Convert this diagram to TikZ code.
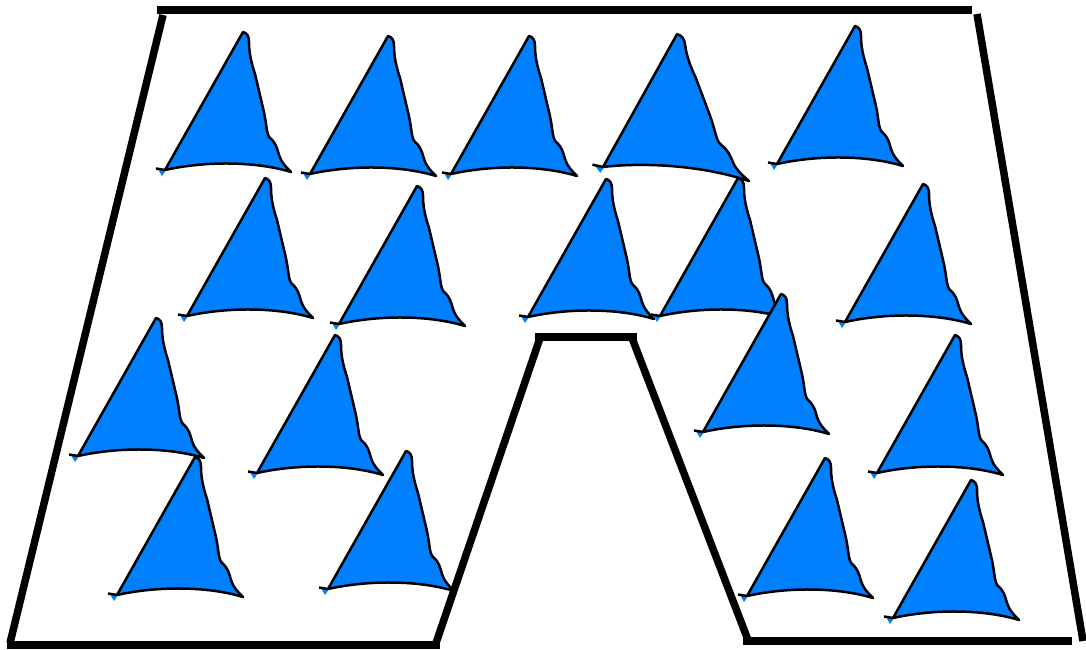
\documentclass[tikz,border=0pt]{standalone}
\usepackage{xcolor}
\definecolor{sailblue}{RGB}{0,128,255}

\tikzset{
    pics/sail/.style={code={
        \fill[sailblue] (-7,-1) -- (1,0) -- (-3,6) -- cycle;
        \draw[sailedge] (-9,-1.5) -- (0,0);
        \draw[sailedge, fill=sailblue] (0,0) -- (78,-138)
            .. controls (82,-137) and (84,-134) .. (84,-128)
            .. controls (84,-118) and (86,-108) .. (90,-96) -- (98,-62)
            .. controls (102,-46) and (101,-36) .. (105,-32)
            .. controls (111,-27) and (112,-22) .. (114,-15)
            .. controls (116,-8) and (121,-3) .. (126,2)
            .. controls (90,-9) and (40,-9) .. (0,0) -- cycle;
    }}
}

\begin{document}
\begin{tikzpicture}[x=1pt, y=-1pt,
    sailedge/.style={draw=black, line width=2.5pt, line join=round},
    wall/.style={draw=black, line width=7.5pt}
]
\useasboundingbox (0,0) rectangle (1086,649);

\pic at (165,170) {sail};
\pic at (310,174) {sail};
\pic at (451,174) {sail};
\pic[cm={1.157,-0.0956,-0.1175,1.017,(0,0)}] at (603,167) {sail};
\pic at (777,164) {sail};

\pic at (187,316) {sail};
\pic at (339,324) {sail};
\pic at (528,317) {sail};
\pic at (660,316) {sail};
\pic at (845,322) {sail};

\pic at (78,456) {sail};
\pic at (257,473) {sail};
\pic at (703,432) {sail};
\pic at (877,473) {sail};

\pic at (117,595) {sail};
\pic at (328,589) {sail};
\pic at (747,596) {sail};
\pic at (893,618) {sail};

\coordinate (topL) at (157,10);
\coordinate (topR) at (972,10);
\coordinate (leftT) at (163,15);
\coordinate (leftB) at (10,643);
\coordinate (baseL) at (7,645);
\coordinate (baseM) at (440,645);
\coordinate (gapLB) at (436,643);
\coordinate (gapLT) at (540,338);
\coordinate (gapTL) at (535,337);
\coordinate (gapTR) at (637,337);
\coordinate (gapRT) at (632,338);
\coordinate (gapRB) at (748,640);
\coordinate (baseN) at (743,641);
\coordinate (baseR) at (1072,641);
\coordinate (rightT) at (977,14);
\coordinate (rightB) at (1083,641);

\draw[wall] (topL) -- (topR);
\draw[wall] (leftT) -- (leftB);
\draw[wall] (baseL) -- (baseM);
\draw[wall] (gapLB) -- (gapLT);
\draw[wall] (gapTL) -- (gapTR);
\draw[wall] (gapRT) -- (gapRB);
\draw[wall] (baseN) -- (baseR);
\draw[wall] (rightT) -- (rightB);
\end{tikzpicture}
\end{document}
